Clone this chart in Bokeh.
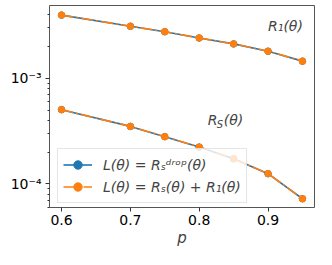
from bokeh.plotting import figure
from bokeh.models import Range1d, FixedTicker, Legend, LegendItem, Label
from bokeh.embed import file_html
from bokeh.resources import INLINE

# ---- data ----
p_vals = [0.6, 0.7, 0.75, 0.8, 0.85, 0.9, 0.95]
r1_drop = [3.95e-3, 3.10e-3, 2.75e-3, 2.40e-3, 2.11e-3, 1.80e-3, 1.45e-3]
r1_sum = [3.95e-3, 3.10e-3, 2.75e-3, 2.40e-3, 2.11e-3, 1.80e-3, 1.45e-3]
rs_drop = [5.04e-4, 3.50e-4, 2.80e-4, 2.23e-4, 1.73e-4, 1.25e-4, 7.24e-5]
rs_sum = [5.04e-4, 3.50e-4, 2.80e-4, 2.23e-4, 1.73e-4, 1.25e-4, 7.24e-5]
x_ticks = [0.6, 0.7, 0.8, 0.9]
y_ticks = [1e-4, 1e-3]
y_tick_labels = {1e-4: "10\u207b\u2074", 1e-3: "10\u207b\u00b3"}
legend_labels = ["L(\u03b8) = R\u209b\u1d48\u02b3\u1d52\u1d56(\u03b8)",
                 "L(\u03b8) = R\u209b(\u03b8) + R\u2081(\u03b8)"]

BLUE = "#1f77b4"
ORANGE = "#ff7f0e"
FONT = "DejaVu Sans"

p = figure(width=316, height=249, y_axis_type="log",
           x_range=Range1d(0.5825, 0.9675),
           y_range=Range1d(10 ** -4.223, 10 ** -2.3125),
           output_backend="svg", toolbar_location=None,
           min_border_left=49, min_border_right=2,
           min_border_top=5, min_border_bottom=32)

p.xgrid.visible = False
p.ygrid.visible = False
p.outline_line_color = "#555555"
p.outline_line_width = 1
p.background_fill_color = "white"
p.border_fill_color = "white"

# lines
b1 = p.line(p_vals, r1_drop, line_color=BLUE, line_width=1.6)
b1m = p.scatter(p_vals, r1_drop, size=6.5, fill_color=BLUE, line_color=BLUE)
b2 = p.line(p_vals, rs_drop, line_color=BLUE, line_width=1.6)
b2m = p.scatter(p_vals, rs_drop, size=6.5, fill_color=BLUE, line_color=BLUE)
o1 = p.line(p_vals, r1_sum, line_color=ORANGE, line_width=1.6, line_dash="12 3 2 3")
o1m = p.scatter(p_vals, r1_sum, size=6.5, fill_color=ORANGE, line_color=ORANGE)
o2 = p.line(p_vals, rs_sum, line_color=ORANGE, line_width=1.6, line_dash="12 3 2 3")
o2m = p.scatter(p_vals, rs_sum, size=6.5, fill_color=ORANGE, line_color=ORANGE)

# axes
for ax in (p.xaxis[0], p.yaxis[0]):
    ax.axis_line_color = None
    ax.major_tick_line_color = "#333333"
    ax.minor_tick_line_color = "#333333"
    ax.major_tick_in = 0
    ax.major_tick_out = 4
    ax.minor_tick_in = 0
    ax.minor_tick_out = 2
    ax.major_label_text_font = FONT
    ax.major_label_text_font_size = "14px"
    ax.major_label_text_color = "black"
    ax.major_label_standoff = 3

p.xaxis.ticker = FixedTicker(ticks=x_ticks, minor_ticks=[])
p.xaxis.axis_label = "p"
p.xaxis.axis_label_text_font = FONT
p.xaxis.axis_label_text_font_size = "15px"
p.xaxis.axis_label_text_font_style = "italic"
p.xaxis.axis_label_standoff = 1

minor = [m * 10.0 ** e for e in (-5, -4, -3) for m in range(2, 10)]
p.yaxis.ticker = FixedTicker(ticks=y_ticks, minor_ticks=minor)
p.yaxis.major_label_overrides = y_tick_labels
p.yaxis.major_label_standoff = 4

# legend
legend = Legend(items=[LegendItem(label=legend_labels[0], renderers=[b1, b1m]),
                       LegendItem(label=legend_labels[1], renderers=[o1, o1m])],
                location=(8, 4))
legend.label_text_font = FONT
legend.label_text_font_size = "14px"
legend.label_text_font_style = "italic"
legend.border_line_color = "#cccccc"
legend.border_line_width = 1
legend.background_fill_alpha = 0.8
legend.margin = 0
legend.padding = 5
legend.spacing = 1
legend.glyph_width = 29
legend.label_height = 21
legend.glyph_height = 21
legend.label_standoff = 11
p.add_layout(legend)

# annotations
p.add_layout(Label(x=0.9, y=3.1e-3, text="R\u2081(\u03b8)", text_font=FONT,
                   text_font_size="14px", text_font_style="italic",
                   text_baseline="middle", text_align="left"))
p.add_layout(Label(x=0.8125, y=4.0e-4, text="R", text_font=FONT,
                   text_font_size="14px", text_font_style="italic",
                   text_baseline="middle", text_align="left"))
p.add_layout(Label(x=0.8125, y=4.0e-4, x_offset=9, y_offset=-4, text="S",
                   text_font=FONT, text_font_size="10px", text_font_style="italic",
                   text_baseline="middle", text_align="left"))
p.add_layout(Label(x=0.8125, y=4.0e-4, x_offset=16, text="(\u03b8)", text_font=FONT,
                   text_font_size="14px", text_font_style="italic",
                   text_baseline="middle", text_align="left"))

open("out.html", "w").write(file_html(p, INLINE))
